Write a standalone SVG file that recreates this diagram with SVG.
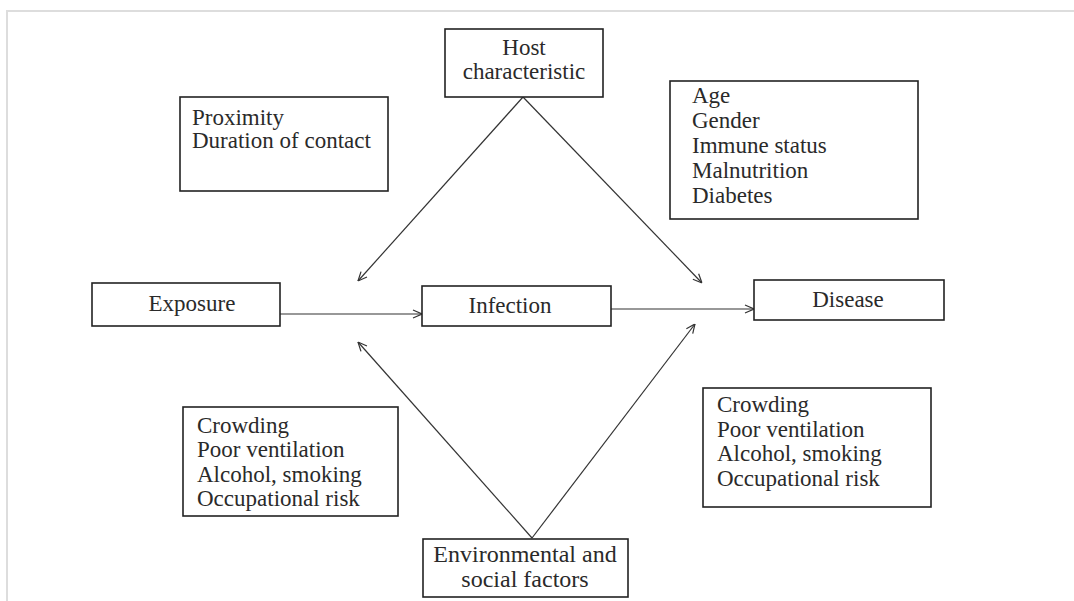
<svg xmlns="http://www.w3.org/2000/svg" width="1074" height="601" viewBox="0 0 1074 601">
<defs>
<style>
.box{fill:#fff;stroke:#222;stroke-width:1.6}
.t{font-family:"Liberation Serif","Times New Roman",serif;font-size:23px;fill:#2a2a2a}
.e{font-size:24px}
.c{text-anchor:middle}
.ln{stroke:#333;stroke-width:1.2;fill:none}
</style>
<marker id="ah" viewBox="0 0 10 10" refX="10" refY="5" markerWidth="10" markerHeight="10" markerUnits="userSpaceOnUse" orient="auto">
<path d="M1,1 L10,5 L1,9" fill="none" stroke="#333" stroke-width="1.2"/>
</marker>
</defs>
<rect width="1074" height="601" fill="#fff"/>
<path d="M7,601 V11 H1074" fill="none" stroke="#ddd" stroke-width="2"/>
<g id="connectors">
<line class="ln" x1="280" y1="314" x2="422" y2="314" marker-end="url(#ah)"/>
<line class="ln" x1="611" y1="309" x2="754" y2="309" marker-end="url(#ah)"/>
<line class="ln" x1="523" y1="97" x2="358" y2="281" marker-end="url(#ah)"/>
<line class="ln" x1="523" y1="97" x2="702" y2="283" marker-end="url(#ah)"/>
<line class="ln" x1="532" y1="538" x2="358" y2="342" marker-end="url(#ah)"/>
<line class="ln" x1="532" y1="538" x2="695" y2="324" marker-end="url(#ah)"/>
</g>
<g id="host">
<rect class="box" x="445" y="29" width="158" height="68"/>
<text class="t c" x="524" y="55">Host</text>
<text class="t c" x="524" y="79">characteristic</text>
</g>
<g id="proximity">
<rect class="box" x="180" y="97" width="208" height="94"/>
<text class="t" x="192" y="125">Proximity</text>
<text class="t" x="192" y="148">Duration of contact</text>
</g>
<g id="host-factors">
<rect class="box" x="670" y="81" width="248" height="138"/>
<text class="t" x="692" y="103">Age</text>
<text class="t" x="692" y="128">Gender</text>
<text class="t" x="692" y="153">Immune status</text>
<text class="t" x="692" y="178">Malnutrition</text>
<text class="t" x="692" y="203">Diabetes</text>
</g>
<g id="exposure">
<rect class="box" x="92" y="283" width="188" height="43"/>
<text class="t c" x="192" y="311">Exposure</text>
</g>
<g id="infection">
<rect class="box" x="422" y="286" width="189" height="40"/>
<text class="t c" x="510" y="313">Infection</text>
</g>
<g id="disease">
<rect class="box" x="754" y="280" width="190" height="40"/>
<text class="t c" x="848" y="307">Disease</text>
</g>
<g id="env-factors-left">
<rect class="box" x="183" y="407" width="215" height="109"/>
<text class="t" x="197" y="433">Crowding</text>
<text class="t" x="197" y="457">Poor ventilation</text>
<text class="t" x="197" y="482">Alcohol, smoking</text>
<text class="t" x="197" y="506">Occupational risk</text>
</g>
<g id="env-factors-right">
<rect class="box" x="703" y="388" width="228" height="119"/>
<text class="t" x="717" y="412">Crowding</text>
<text class="t" x="717" y="437">Poor ventilation</text>
<text class="t" x="717" y="461">Alcohol, smoking</text>
<text class="t" x="717" y="486">Occupational risk</text>
</g>
<g id="environment">
<rect class="box" x="423" y="539" width="205" height="58"/>
<text class="t e c" x="525" y="562">Environmental and</text>
<text class="t e c" x="525" y="587">social factors</text>
</g>
</svg>
